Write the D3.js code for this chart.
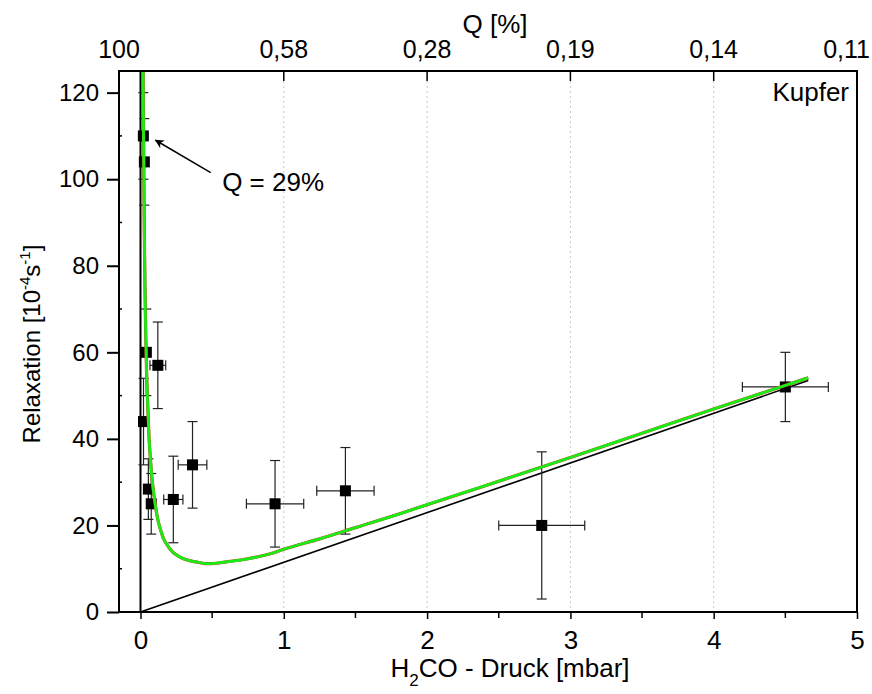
<!DOCTYPE html>
<html>
<head>
<meta charset="utf-8">
<script src="https://cdn.jsdelivr.net/npm/d3@7"></script>
<style>
  html, body { margin: 0; padding: 0; background: #fff; }
  svg { display: block; font-family: "Liberation Sans", Arial, sans-serif; }
</style>
</head>
<body>
<svg id="chart" width="872" height="694"></svg>
<script>
// Measured relaxation rates on copper vs. H2CO pressure
const pressure      = [0.02, 0.027, 0.041, 0.121, 0.021, 0.055, 0.075, 0.229, 0.363, 0.939, 1.43, 2.80, 4.50];
const relaxation    = [110, 104, 60, 57, 44, 28.4, 25, 26, 34, 25, 28, 20, 52];
const pressureErr   = [0, 0, 0, 0.055, 0, 0, 0, 0.067, 0.1, 0.2, 0.2, 0.3, 0.3];
const relaxationErr = [10, 10, 10, 10, 10, 7, 7, 10, 10, 10, 10, 17, 8];

// Fitted curve (x in mbar, y in 10^-4 s^-1)
const fitX = [0.018, 0.02, 0.024, 0.027, 0.031, 0.036, 0.042, 0.05, 0.06, 0.07, 0.08, 0.09, 0.1, 0.12,
              0.14, 0.16, 0.19, 0.22, 0.26, 0.3, 0.35, 0.4, 0.45, 0.5, 0.6, 0.75, 0.9, 1.0, 1.25, 1.5,
              1.82, 2.0, 2.38, 3.0, 3.5, 4.0, 4.66];
const fitY = [129, 116, 98, 87, 76, 65, 56, 48, 40, 35, 31, 28, 25.5, 21.5,
              19, 17, 15.3, 14, 13, 12.3, 11.8, 11.5, 11.2, 11.2, 11.6, 12.3, 13.4, 14.5, 16.9, 19.5,
              22.8, 24.8, 28.9, 35.7, 41.3, 46.9, 54.1];

// Linear part of the fit and the vertical asymptote
const linearX = [0, 4.66];
const linearY = [0, 53.5];
const asymptoteX = [0, 0];
const asymptoteY = [0, 125];

// Axes
const xDomain = [-0.15, 5];
const yDomain = [0, 125];
const xTicksMajor = [0, 1, 2, 3, 4, 5];
const xTicksMinor = [0.5, 1.5, 2.5, 3.5, 4.5];
const yTicksMajor = [0, 20, 40, 60, 80, 100, 120];
const yTicksMinor = [10, 30, 50, 70, 90, 110];
const gridX = [1, 2, 3, 4];
const topTickPos = [1, 2, 3, 4, 5];
const topTickLabels = ["100", "0,58", "0,28", "0,19", "0,14", "0,11"];

const margin = { top: 71, right: 15, bottom: 82, left: 119 };
const W = 872, H = 694;
const iw = W - margin.left - margin.right;
const ih = H - margin.top - margin.bottom;
const FS = 26;

const svg = d3.select("#chart");
const x = d3.scaleLinear().domain(xDomain).range([0, iw]);
const y = d3.scaleLinear().domain(yDomain).range([ih, 0]);

const g = svg.append("g").attr("transform", `translate(${margin.left},${margin.top})`);

const defs = svg.append("defs");
defs.append("clipPath").attr("id", "plotClip")
  .append("rect").attr("width", iw).attr("height", ih);
defs.append("marker").attr("id", "arrowHead")
  .attr("viewBox", "0 0 10 10").attr("refX", 9).attr("refY", 5)
  .attr("markerWidth", 11).attr("markerHeight", 9).attr("markerUnits", "userSpaceOnUse")
  .attr("orient", "auto")
  .append("path").attr("d", "M0,0 L10,5 L0,10 L3,5 Z").attr("fill", "#000");

// Dotted vertical grid
g.append("g").selectAll("line").data(gridX).join("line")
  .attr("x1", d => x(d)).attr("x2", d => x(d))
  .attr("y1", 0).attr("y2", ih)
  .attr("stroke", "#c8c8c8").attr("stroke-width", 1).attr("stroke-dasharray", "2,3");

// Bottom axis
const axisB = g.append("g").attr("transform", `translate(0,${ih})`);
axisB.call(d3.axisBottom(x).tickValues(xTicksMajor).tickSize(7).tickPadding(12).tickFormat(d3.format("d")))
  .call(a => a.select(".domain").remove())
  .call(a => a.selectAll("text").attr("font-size", FS).attr("font-family", "Liberation Sans, Arial").attr("fill", "#000"))
  .call(a => a.selectAll("line").attr("stroke-width", 1.5));
axisB.append("g").selectAll("line").data(xTicksMinor).join("line")
  .attr("x1", d => x(d)).attr("x2", d => x(d)).attr("y1", 0).attr("y2", 6)
  .attr("stroke", "#000").attr("stroke-width", 1.5);

// Left axis
const axisL = g.append("g");
axisL.call(d3.axisLeft(y).tickValues(yTicksMajor).tickSize(12).tickPadding(8).tickFormat(d3.format("d")))
  .call(a => a.select(".domain").remove())
  .call(a => a.selectAll("text").attr("font-size", 24).attr("font-family", "Liberation Sans, Arial").attr("fill", "#000"))
  .call(a => a.selectAll("line").attr("stroke-width", 2));
axisL.append("g").selectAll("line").data(yTicksMinor).join("line")
  .attr("x1", 0).attr("x2", 3).attr("y1", d => y(d)).attr("y2", d => y(d))
  .attr("stroke", "#000").attr("stroke-width", 1.5);

// Top axis (Q scale)
const axisT = g.append("g");
axisT.selectAll("line").data(topTickPos).join("line")
  .attr("x1", d => x(d)).attr("x2", d => x(d)).attr("y1", 0).attr("y2", 10)
  .attr("stroke", "#000").attr("stroke-width", 1.5);
axisT.selectAll("text").data([xDomain[0]].concat(topTickPos)).join("text")
  .attr("x", d => x(d)).attr("y", -13)
  .attr("text-anchor", "middle").attr("font-size", 25).text((d, i) => topTickLabels[i])
  .each(function () {
    // keep the last label inside the page
    const b = this.getBBox();
    const overflow = margin.left + b.x + b.width - (W - 2);
    if (overflow > 0) d3.select(this).attr("x", +d3.select(this).attr("x") - overflow);
  });

// Data layer (clipped)
const plot = g.append("g").attr("clip-path", "url(#plotClip)");

const line = d3.line().x(d => x(d[0])).y(d => y(d[1]));
const fitPts = fitX.map((v, i) => [v, fitY[i]]);

// Vertical asymptote and linear part
plot.append("path").datum(asymptoteX.map((v, i) => [v, asymptoteY[i]]))
  .attr("d", line).attr("stroke", "#000").attr("stroke-width", 2).attr("fill", "none");
plot.append("path").datum(linearX.map((v, i) => [v, linearY[i]]))
  .attr("d", line).attr("stroke", "#000").attr("stroke-width", 1.6).attr("fill", "none");

// Error bars
const pts = pressure.map((v, i) => ({ x: v, y: relaxation[i], ex: pressureErr[i], ey: relaxationErr[i] }));
const cap = 5;
const eb = plot.append("g").attr("stroke", "#222").attr("stroke-width", 1.2).attr("fill", "none");
pts.forEach(p => {
  const cx = x(p.x), cy = y(p.y);
  if (p.ey > 0) {
    const y1 = y(p.y + p.ey), y2 = y(p.y - p.ey);
    eb.append("line").attr("x1", cx).attr("x2", cx).attr("y1", y1).attr("y2", y2);
    eb.append("line").attr("x1", cx - cap).attr("x2", cx + cap).attr("y1", y1).attr("y2", y1);
    eb.append("line").attr("x1", cx - cap).attr("x2", cx + cap).attr("y1", y2).attr("y2", y2);
  }
  if (p.ex > 0) {
    const x1 = x(p.x - p.ex), x2 = x(p.x + p.ex);
    eb.append("line").attr("x1", x1).attr("x2", x2).attr("y1", cy).attr("y2", cy);
    eb.append("line").attr("x1", x1).attr("x2", x1).attr("y1", cy - cap).attr("y2", cy + cap);
    eb.append("line").attr("x1", x2).attr("x2", x2).attr("y1", cy - cap).attr("y2", cy + cap);
  }
});

// Square markers
const ms = 11;
plot.append("g").selectAll("rect").data(pts).join("rect")
  .attr("x", d => x(d.x) - ms / 2).attr("y", d => y(d.y) - ms / 2)
  .attr("width", ms).attr("height", ms).attr("fill", "#000");

// Fit curve
const curve = d3.line().x(d => x(d[0])).y(d => y(d[1])).curve(d3.curveMonotoneX);
plot.append("path").datum(fitPts).attr("d", curve)
  .attr("stroke", "#e03020").attr("stroke-width", 3.2).attr("fill", "none");
plot.append("path").datum(fitPts).attr("d", curve)
  .attr("stroke", "#16ee16").attr("stroke-width", 2.8).attr("fill", "none");

// Frame
g.append("rect").attr("width", iw).attr("height", ih)
  .attr("fill", "none").attr("stroke", "#000").attr("stroke-width", 2);

// Annotation
g.append("line")
  .attr("x1", x(0.49)).attr("y1", y(101.5)).attr("x2", x(0.105)).attr("y2", y(109))
  .attr("stroke", "#000").attr("stroke-width", 1.5).attr("marker-end", "url(#arrowHead)");
g.append("text").attr("x", x(0.57)).attr("y", y(97.2))
  .attr("font-size", FS).text("Q = 29%");

g.append("text").attr("x", iw - 8).attr("y", 30)
  .attr("text-anchor", "end").attr("font-size", FS).text("Kupfer");

// Axis titles
svg.append("text").attr("x", 495).attr("y", 33)
  .attr("text-anchor", "middle").attr("font-size", FS).text("Q [%]");

const xt = svg.append("text").attr("x", 510).attr("y", 677)
  .attr("text-anchor", "middle").attr("font-size", FS);
xt.append("tspan").text("H");
xt.append("tspan").attr("font-size", 17).attr("dy", 9).text("2");
xt.append("tspan").attr("dy", -9).text("CO - Druck [mbar]");

const yt = svg.append("text").attr("transform", "translate(40,344) rotate(-90)")
  .attr("text-anchor", "middle").attr("font-size", 24);
yt.append("tspan").text("Relaxation [10");
yt.append("tspan").attr("font-size", 15).attr("dy", -10).text("-4");
yt.append("tspan").attr("dy", 10).text("s");
yt.append("tspan").attr("font-size", 15).attr("dy", -10).text("-1");
yt.append("tspan").attr("dy", 10).text("]");
</script>
</body>
</html>
